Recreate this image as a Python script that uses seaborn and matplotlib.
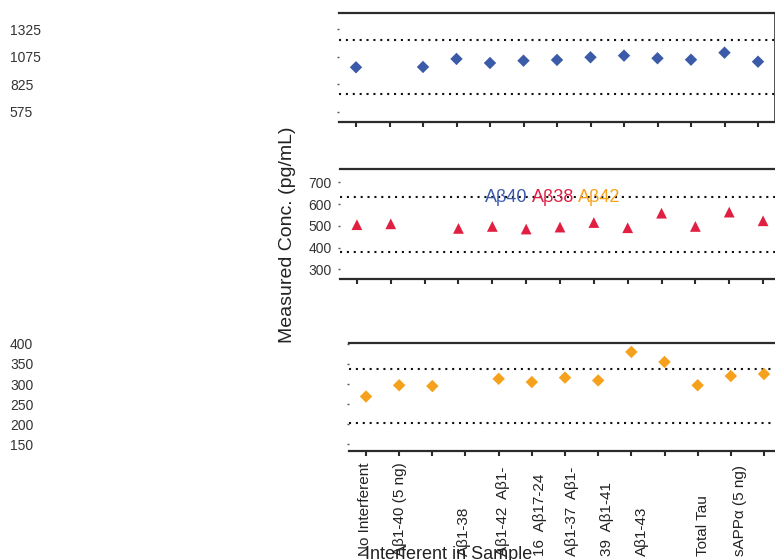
import matplotlib
matplotlib.use("Agg")
import matplotlib.pyplot as plt
from matplotlib import font_manager, transforms
import numpy as np
import pandas as pd
import seaborn as sns

# ---- data -------------------------------------------------------------
n_slots = 13

ab40_pos = [0, 2, 3, 4, 5, 6, 7, 8, 9, 10, 11, 12]
ab40_conc = [979, 982, 1055, 1018, 1039, 1046, 1070, 1085, 1061, 1048, 1112, 1030]

ab38_pos = [0, 1, 3, 4, 5, 6, 7, 8, 9, 10, 11, 12]
ab38_conc = [505, 509, 488, 497, 485, 494, 515, 491, 558, 497, 563, 523]

ab42_pos = [0, 1, 2, 4, 5, 6, 7, 8, 9, 10, 11, 12]
ab42_conc = [269, 297, 295, 313, 305, 316, 309, 380, 355, 297, 320, 325]

ab40_ticks = [575, 825, 1075, 1325]
ab38_ticks = [300, 400, 500, 600, 700]
ab42_ticks = [150, 200, 250, 300, 350, 400]

interferent_labels = ["No Interferent", "Aβ1-40 (5 ng)", "Aβ1-38", "Aβ1-42  Aβ1-",
                      "16  Aβ17-24", "Aβ1-37  Aβ1-", "39  Aβ1-41", "Aβ1-43",
                      "Total Tau", "sAPPα (5 ng)"]
label_slots = [-0.03, 1.03, 2.95, 4.13, 5.25, 6.21, 7.27, 8.32, 10.16, 11.28]

series_names = ["Aβ40", "Aβ38", "Aβ42"]
series_colors = ["#3b5ba9", "#e01f41", "#f6a11b"]

# ---- style ------------------------------------------------------------
sns.set_style("white")
installed = {f.name for f in font_manager.fontManager.ttflist}
plt.rcParams["font.family"] = ["Liberation Sans", "DejaVu Sans"]
if "Liberation Sans Narrow" in installed:
    tick_family = ["Liberation Sans Narrow", "DejaVu Sans"]
    tick_size, xlab_size = 11.5, 13
else:
    tick_family = ["Liberation Sans", "DejaVu Sans"]
    tick_size, xlab_size = 10, 11

W, H = 775, 560
fig = plt.figure(figsize=(W / 100, H / 100), dpi=100)


def px_axes(left, top, right, bottom):
    return fig.add_axes([left / W, 1 - bottom / H, (right - left) / W, (bottom - top) / H])


ax_top = px_axes(339.25, 13, 774.75, 122)
ax_mid = px_axes(340, 169.3, 780, 279)
ax_bot = px_axes(349.4, 342.7, 780.6, 450.7)

panels = [
    (ax_top, ab40_pos, ab40_conc, "D", 40, series_colors[0], (481, 1473), ab40_ticks),
    (ax_mid, ab38_pos, ab38_conc, "^", 60, series_colors[1], (255, 760), ab38_ticks),
    (ax_bot, ab42_pos, ab42_conc, "D", 40, series_colors[2], (134, 403), ab42_ticks),
]

for ax, pos, conc, mk, size, col, ylim, yt in panels:
    df = pd.DataFrame({"slot": pos, "conc": conc})
    sns.scatterplot(data=df, x="slot", y="conc", ax=ax, marker=mk, s=size,
                    color=col, edgecolor="none", linewidth=0, zorder=3)
    # acceptance band: +/-25 % of the no-interferent result
    ref = conc[0]
    for lvl in (0.75 * ref, 1.25 * ref):
        ax.axhline(lvl, color="#111111", lw=1.5, ls=(0, (1, 2.3)), zorder=2)
    ax.set_xlim(-0.5, n_slots - 0.5)
    ax.set_ylim(*ylim)
    ax.set_xticks(range(n_slots))
    ax.set_xticklabels([])
    ax.set_yticks(yt)
    ax.set_yticklabels([str(v) for v in yt], fontfamily=tick_family,
                       fontsize=tick_size, color="#333333")
    ax.set_xlabel("")
    ax.set_ylabel("")
    ax.grid(False)
    ax.spines["left"].set_visible(False)
    ax.spines["right"].set_visible(ax is ax_top)
    ax.spines["right"].set_color("#444444")
    ax.spines["right"].set_linewidth(1.3)
    for s in ("top", "bottom"):
        ax.spines[s].set_color("#2b2b2b")
        ax.spines[s].set_linewidth(1.6)
    ax.tick_params(axis="x", bottom=True, direction="out", length=3.8,
                   width=1.5, color="#2b2b2b")
    ax.tick_params(axis="y", left=True, direction="out", length=1.2,
                   width=1.0, color="#555555", pad=5)

# outer panels carry their scale at the far left edge of the figure
for ax, left_px in ((ax_top, 339.25), (ax_bot, 349.4)):
    ax.tick_params(axis="y", pad=(left_px - 1.6 - 10) * 0.72)
    for lbl in ax.get_yticklabels():
        lbl.set_horizontalalignment("left")

# interferent names, written upward from a common baseline
trans = transforms.blended_transform_factory(ax_bot.transData, fig.transFigure)
for name, slot in zip(interferent_labels, label_slots):
    ax_bot.text(slot, 1 - 556 / H, name, transform=trans, rotation=90,
                ha="center", va="bottom", fontfamily=tick_family,
                fontsize=xlab_size, color="#222222")

fig.text(365 / W, 1 - 559 / H, "Interferent in Sample", ha="left",
         va="baseline", fontsize=13, color="#222222")
fig.text(287 / W, 1 - 235 / H, "Measured Conc. (pg/mL)", rotation=90,
         ha="center", va="center", fontsize=14, color="#222222")

# series key
x_px = 485
for name, col in zip(series_names, series_colors):
    t = fig.text(x_px / W, 1 - 197 / H, name, ha="left", va="center",
                 fontsize=13, color=col)
    fig.canvas.draw()
    bb = t.get_window_extent()
    x_px += bb.width + 4

fig.savefig("out.png", dpi=100)
